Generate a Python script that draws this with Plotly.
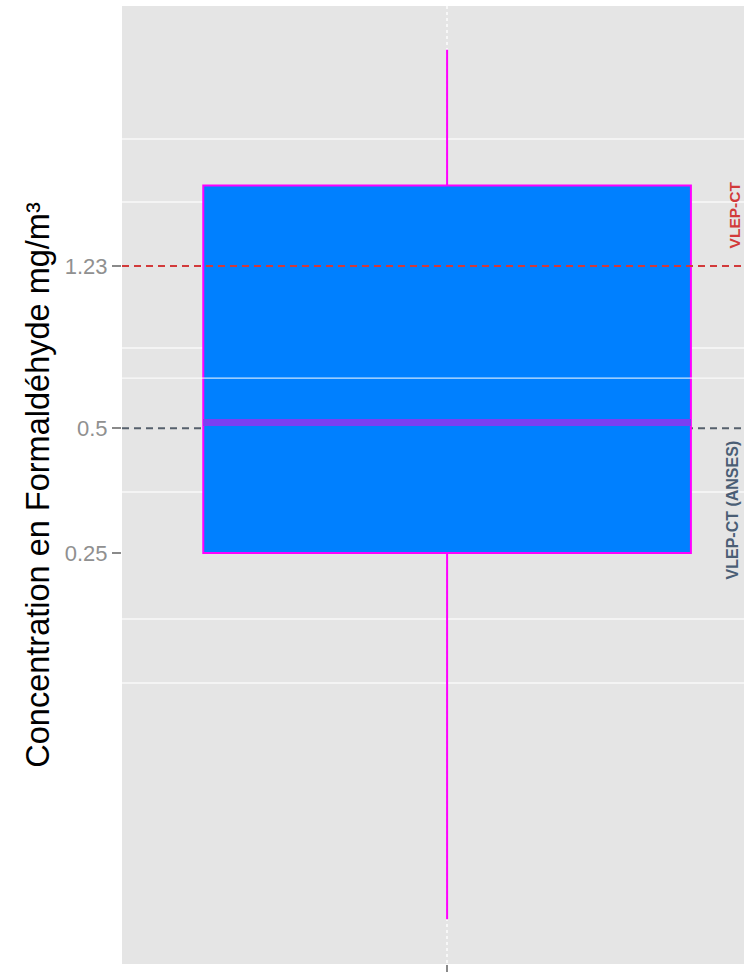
import math
import plotly.graph_objects as go

# ---------------- data ----------------
category = ["Formaldéhyde"]
q1 = [0.25]
median = [0.516]
q3 = [1.92]
lower_fence = [0.0328]
upper_fence = [4.08]

vlep_ct = 1.23            # red dashed reference
vlep_ct_anses = 0.5       # grey-blue dashed reference
ref_labels = ["VLEP-CT", "VLEP-CT (ANSES)"]

y_tick_vals = [0.25, 0.5, 1.23]
y_tick_text = ["0.25", "0.5", "1.23"]
grid_vals = [0.1216, 0.1734, 0.351, 0.78, 1.754, 2.488]
bright_line = 0.66
y_range_log = [-1.592, 0.716]

# ---------------- figure ----------------
fig = go.Figure()

fig.add_trace(go.Box(
    x=category, q1=q1, median=median, q3=q3,
    lowerfence=lower_fence, upperfence=upper_fence,
    fillcolor="#0080FF", line=dict(color="#FF00FF", width=2),
    width=0.9, whiskerwidth=0, boxpoints=False, showlegend=False,
    hoverinfo="skip",
))
# median drawn as a flat box so it can have its own colour / thickness
fig.add_trace(go.Box(
    x=category, q1=median, median=median, q3=median,
    lowerfence=median, upperfence=median,
    fillcolor="rgba(0,0,0,0)", line=dict(color="#7B3FF2", width=7),
    width=0.9, whiskerwidth=0, boxpoints=False, showlegend=False,
    hoverinfo="skip",
))

# reference lines
fig.add_shape(type="line", xref="paper", x0=0, x1=1, yref="y",
              y0=vlep_ct, y1=vlep_ct, layer="above",
              line=dict(color="#D23A3A", width=2, dash="7px,5px"))
fig.add_shape(type="line", xref="paper", x0=0, x1=1, yref="y",
              y0=vlep_ct_anses, y1=vlep_ct_anses, layer="below",
              line=dict(color="#56606C", width=2, dash="7px,5px"))
fig.add_shape(type="line", xref="paper", x0=0, x1=1, yref="y",
              y0=bright_line, y1=bright_line, layer="above",
              line=dict(color="#FFFFFF", width=1))

fig.add_annotation(text="<b>" + ref_labels[0] + "</b>", textangle=-90,
                   xref="paper", x=0.984, xanchor="center",
                   yref="y", y=math.log10(vlep_ct), yanchor="bottom", yshift=15,
                   showarrow=False, font=dict(family="Liberation Sans, Arial", size=15.5, color="#D23A3A"))
fig.add_annotation(text="<b>" + ref_labels[1] + "</b>", textangle=-90,
                   xref="paper", x=0.982, xanchor="center",
                   yref="y", y=math.log10(vlep_ct_anses), yanchor="top", yshift=-10,
                   showarrow=False, font=dict(family="Liberation Sans, Arial", size=16, color="#4A5E75"))

fig.update_layout(
    width=744, height=972,
    margin=dict(l=122, r=0, t=6, b=8),
    paper_bgcolor="white", plot_bgcolor="#E5E5E5",
    boxmode="overlay",
    font=dict(family="Liberation Sans, Arial"),
)
fig.update_xaxes(
    type="category", range=[-0.6, 0.548],
    showgrid=True, gridcolor="#F7F7F7", gridwidth=1.5, griddash="dot",
    showticklabels=False, ticks="outside", ticklen=8, tickwidth=1.5, tickcolor="#8A8A8A",
    zeroline=False, showline=False, fixedrange=True,
)
fig.update_yaxes(
    type="log", range=y_range_log,
    tickmode="array", tickvals=y_tick_vals, ticktext=y_tick_text,
    ticks="outside", ticklen=9, tickwidth=1.5, tickcolor="#8A8A8A",
    tickfont=dict(family="Liberation Sans, Arial", size=22, color="#909090"),
    showgrid=False, zeroline=False, showline=False,
    minor=dict(tickmode="array", tickvals=grid_vals, showgrid=True,
               gridcolor="#F4F4F4", gridwidth=1.5, ticks=""),
    title=dict(text="Concentration en Formaldéhyde mg/m³",
               font=dict(family="Liberation Sans, Arial", size=32.5, color="black"),
               standoff=5),
    automargin=False,
)

fig.write_html("out.html", config={"displayModeBar": False},
               post_script="document.body.style.margin='0';")
